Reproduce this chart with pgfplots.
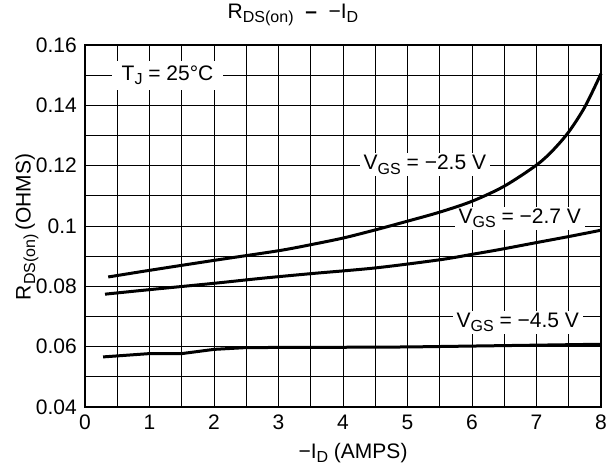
\documentclass[border=0pt]{standalone}
\usepackage{pgfplots}
\pgfplotsset{compat=1.18}
\usepackage{fontspec}
\setmainfont{Liberation Sans}
\newcommand\sub[1]{\raisebox{-0.4ex}{\fontsize{16}{16}\selectfont #1}}
\begin{document}
\begin{tikzpicture}
\fontsize{21}{24}\selectfont
\useasboundingbox (0pt,0pt) rectangle (613pt,468pt);
\begin{axis}[
  at={(85pt,61pt)}, anchor=south west,
  scale only axis, width=516pt, height=362pt,
  xmin=0, xmax=8, ymin=0.04, ymax=0.16,
  xtick={0,1,2,3,4,5,6,7,8},
  ytick={0.04,0.06,0.08,0.1,0.12,0.14,0.16},
  minor xtick={0.5,1.5,2.5,3.5,4.5,5.5,6.5,7.5},
  minor ytick={0.05,0.07,0.09,0.11,0.13,0.15},
  grid=both,
  major grid style={black, line width=0.9pt},
  minor grid style={black, line width=0.9pt},
  axis line style={black, line width=2.4pt},
  tick style={draw=none},
  scaled y ticks=false,
  /pgf/number format/assume math mode=true,
  ticklabel style={font=\fontsize{21}{24}\selectfont},
  yticklabel style={/pgf/number format/fixed, /pgf/number format/precision=2, xshift=-1pt},
  xticklabel style={yshift=-1pt},
  clip=false,
]
\node[fill=white, inner xsep=10pt, inner ysep=5pt] at (axis cs:1.28,0.15) {T\sub{J} = 25°C};
\node[fill=white, inner xsep=4pt, inner ysep=2pt] at (axis cs:5.27,0.1203) {V\sub{GS} = −2.5 V};
\node[fill=white, inner xsep=4pt, inner ysep=2pt] at (axis cs:6.74,0.1025) {V\sub{GS} = −2.7 V};
\node[fill=white, inner xsep=4pt, inner ysep=2pt] at (axis cs:6.71,0.0680) {V\sub{GS} = −4.5 V};
\addplot[black, line width=3pt, smooth] coordinates {
(0.36,0.0831) (1,0.0853) (2,0.0886) (3,0.0918) (3.5,0.0938) (4,0.0960) (4.5,0.0987) (5,0.1016) (5.5,0.1046) (6,0.1082) (6.5,0.1132) (7,0.1202) (7.25,0.1250) (7.5,0.1312) (7.75,0.1395) (8,0.1505)};
\addplot[black, line width=3pt, smooth] coordinates {
(0.31,0.0774) (1,0.0789) (2,0.0810) (2.71,0.0826) (3.5,0.0842) (4.5,0.0861) (5.5,0.0888) (6,0.0906) (6.43,0.0922) (7,0.0945) (7.5,0.0965) (8,0.0986)};
\addplot[black, line width=3pt] coordinates {
(0.28,0.0566) (1,0.0577) (1.5,0.0577) (2,0.0591) (2.5,0.0597) (4,0.0598) (5,0.0599) (6,0.0602) (7,0.0605) (8,0.0608)};
\end{axis}
\node at (293pt,453pt) {R\sub{DS(on)}\ \ \textbf{–}\ \ −I\sub{D}};
\node at (353pt,15pt) {−I\sub{D} (AMPS)};
\node[rotate=90] at (27pt,241pt) {R\sub{DS(on)}\,(OHMS)};
\node[anchor=east] at (6pt,44pt) {5};
\end{tikzpicture}
\end{document}
